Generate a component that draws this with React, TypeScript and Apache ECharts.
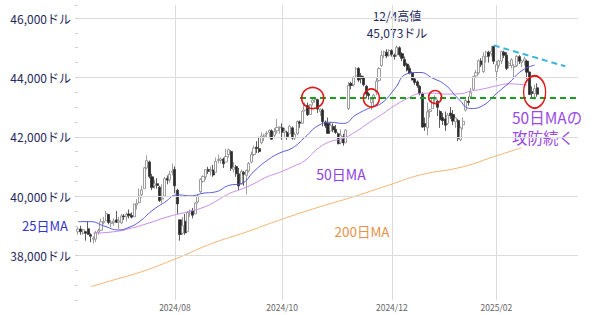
import React, { useEffect, useRef } from 'react';
import * as echarts from 'echarts';

// ---- calendar (trading days) ----
const startDate = '2024-06-06';
const totalDays = 197;
const holidays = ['2024-06-19', '2024-07-04', '2024-09-02', '2024-11-28', '2024-12-25', '2025-01-01', '2025-01-09', '2025-01-20', '2025-02-17'];
const monthLabels = ['2024/08', '2024/10', '2024/12', '2025/02'];
const gridValues = [38000, 40000, 42000, 44000, 46000];

// ---- daily OHLC (NY Dow) ----
const opens = [
  38800, 38890, 38750, 38800, 38900, 38700, 38550, 38550, 38780, 38850, 39100, 39180, 39380, 39080, 39100, 39200,
  39120, 39100, 39330, 39300, 39400, 39350, 39300, 39700, 39780, 40050, 40250, 40950, 41150, 40650, 40350, 40420, 40300, 39900, 40000, 40600, 40550, 40800,
  40900, 40200, 39200, 38750, 39150, 38800, 39420, 39500, 39400, 39800, 40150, 40500, 40650, 40900, 40850, 40880, 40800, 41200, 41200, 41250, 41150, 41400,
  41500, 40900, 41000, 40750, 40400, 40800, 40700, 40850, 41150, 41400, 41650, 41600, 41800, 42000, 42100, 42150, 42200, 42050, 42200, 42300,
  42300, 42150, 42150, 42100, 42300, 41950, 42100, 42500, 42450, 42900, 43050, 42750, 43150, 43250, 43250, 42850, 42900, 42500, 42450, 42200, 42350, 42250, 42100,
  41800, 42000, 41800, 42950, 43800, 43750, 44050, 44300, 44050, 44000, 43700, 43450, 43150, 43300, 43500, 43900, 44400, 44750, 44850, 44750,
  44900, 44750, 44750, 45000, 44800, 44600, 44450, 44300, 44150, 43950, 43850, 43700, 43450, 42450, 42300, 42850, 42950, 43250, 43200, 42850, 42650,
  42600, 42450, 42800, 42750, 42500, 42550, 41900, 42400, 42900, 43200, 43350, 43600, 44050, 44150, 44550, 44200, 44700, 44850, 44800, 45050,
  44200, 44400, 44550, 44850, 44750, 44400, 44400, 44350, 44400, 44700, 44500, 44550, 44550, 44180, 43520, 43450, 43650,
];
const closes = [
  38886, 38799, 38868, 38747, 38712, 38647, 38589, 38778, 38834, 39134, 39150, 39411, 39112, 39127, 39164, 39118,
  39170, 39331, 39308, 39375, 39344, 39291, 39721, 39753, 40001, 40212, 40954, 41198, 40665, 40288, 40415, 40358, 39854, 39935, 40589, 40539, 40743, 40843,
  40348, 39737, 38703, 38998, 38763, 39446, 39497, 39357, 39766, 40009, 40563, 40660, 40897, 40835, 40890, 40713, 41175, 41240, 41251, 41092, 41335, 41563,
  40937, 40975, 40756, 40345, 40830, 40737, 40861, 41097, 41394, 41622, 41606, 41503, 42025, 42063, 42125, 42208, 41915, 42175, 42313, 42330,
  42156, 42197, 42012, 42353, 41955, 42080, 42512, 42455, 42864, 43065, 42740, 43077, 43239, 43276, 42932, 42925, 42515, 42374, 42114, 42387, 42233, 42142, 41763,
  42052, 41794, 42222, 43729, 43729, 43989, 44293, 43911, 43958, 43751, 43445, 43390, 43269, 43408, 43870, 44297, 44737, 44860, 44722, 44911,
  44782, 44706, 45014, 44766, 44643, 44402, 44248, 44149, 43915, 43828, 43717, 43450, 42327, 42342, 42840, 42907, 43297, 43326, 42992, 42574, 42544,
  42392, 42732, 42706, 42528, 42635, 41938, 42297, 42518, 43222, 43153, 43488, 44025, 44157, 44565, 44424, 44714, 44850, 44714, 44882, 44545,
  44422, 44556, 44873, 44747, 44303, 44470, 44594, 44368, 44711, 44546, 44556, 44628, 44177, 43428, 43461, 43621, 43433,
];
const lows = [
  38700, 38700, 38700, 38500, 38700, 38450, 38400, 38450, 38700, 38830, 39050, 39150, 39050, 38950, 39000, 39100,
  38900, 39050, 39200, 39150, 39250, 39250, 39300, 39550, 39750, 39950, 40250, 40900, 40600, 40200, 40250, 40250, 39800, 39750, 39990, 40400, 40450, 40700,
  40100, 39400, 38499, 38700, 38700, 38800, 39300, 39250, 39400, 39750, 40100, 40450, 40550, 40750, 40700, 40650, 40800, 41100, 41100, 40950, 41150, 41300,
  40850, 40800, 40650, 40200, 40400, 40350, 40050, 40800, 41100, 41350, 41450, 41450, 41750, 41850, 42000, 41950, 41900, 41950, 42100, 42100,
  41900, 42000, 41900, 42100, 41900, 41900, 42050, 42300, 42450, 42850, 42700, 42750, 43050, 43150, 42800, 42700, 42350, 42300, 42100, 42200, 42150, 42100, 41750,
  41750, 41700, 41800, 42900, 43600, 43700, 44000, 43850, 43800, 43700, 43300, 43250, 42900, 43000, 43400, 43850, 44350, 44650, 44650, 44700,
  44700, 44600, 44700, 44700, 44550, 44350, 44200, 44100, 43900, 43750, 43650, 43400, 42300, 42200, 42050, 42650, 42950, 43100, 42700, 42300, 42400,
  42200, 42400, 42600, 42400, 42300, 41850, 41850, 42250, 42850, 43050, 43300, 43550, 44000, 44100, 44350, 44150, 44500, 44500, 44700, 44450,
  43900, 44300, 44450, 44650, 44250, 44300, 44300, 44000, 44350, 44450, 44350, 44400, 43950, 43400, 43300, 43250, 43350,
];
const highs = [
  38950, 39000, 38900, 38830, 39150, 38750, 38650, 38830, 38900, 39250, 39300, 39500, 39400, 39200, 39250, 39500,
  39300, 39400, 39400, 39450, 39550, 39450, 39750, 39900, 40250, 40350, 40980, 41375, 41200, 40750, 40550, 40600, 40350, 40400, 40650, 40700, 40850, 41100,
  41000, 40250, 39200, 39300, 39400, 39500, 39550, 39600, 39800, 40050, 40600, 40700, 40900, 40990, 41000, 41050, 41300, 41400, 41300, 41300, 41600, 41600,
  41550, 41150, 41050, 40950, 40900, 40850, 40900, 41150, 41500, 41700, 41850, 42000, 42150, 42100, 42200, 42250, 42250, 42300, 42600, 42350,
  42450, 42300, 42200, 42400, 42350, 42150, 42550, 42550, 42900, 43150, 43150, 43100, 43325, 43350, 43280, 42950, 42950, 42550, 42650, 42500, 42450, 42400, 42150,
  42250, 42100, 42250, 43850, 43850, 44050, 44350, 44350, 44150, 44050, 43750, 43500, 43300, 43450, 44000, 44350, 44900, 44900, 44950, 44950,
  44950, 44800, 45073, 45050, 44850, 44700, 44500, 44400, 44200, 44000, 43900, 43750, 43500, 42650, 43150, 42950, 43300, 43400, 43250, 42900, 42800,
  42850, 42800, 43000, 42900, 42650, 42600, 42350, 42650, 43300, 43350, 43650, 44050, 44250, 44600, 44650, 44850, 44900, 44900, 45050, 45050,
  44550, 44600, 44900, 44900, 44850, 44550, 44650, 44450, 44750, 44750, 44600, 44700, 44600, 44200, 43700, 43750, 43800,
];

// ---- moving averages: [trading-day index, value] ----
const ma25: [number, number][] = [
  [0, 39140], [5, 39140], [10, 39000], [16, 38860], [20, 38950], [24, 39135], [29, 39507], [34, 39794], [39, 40043],
  [44, 40008], [49, 40097], [54, 40145], [59, 40358], [64, 40424], [69, 40836], [74, 41195], [79, 41452], [84, 41620],
  [89, 41985], [94, 42367], [99, 42487], [104, 42449], [109, 42740], [114, 42959], [119, 43132], [124, 43598], [129, 44122],
  [134, 44166], [139, 43976], [144, 43746], [149, 43289], [154, 42953], [159, 43066], [164, 43454], [169, 43819], [174, 44228], [179, 44414],
];
const ma50: [number, number][] = [
  [6, 38750], [14, 38800], [20, 38900], [28, 39100], [35, 39300], [42, 39450], [49, 39616], [54, 39826], [59, 40076],
  [64, 40234], [69, 40422], [74, 40646], [79, 40799], [84, 40989], [89, 41204], [94, 41602], [99, 41841], [104, 41950],
  [109, 42180], [114, 42472], [119, 42749], [124, 43043], [129, 43285], [134, 43453], [139, 43468], [144, 43439], [149, 43444],
  [154, 43538], [159, 43616], [164, 43715], [169, 43783], [174, 43759], [176, 43740],
];
const ma200: [number, number][] = [
  [5, 36950], [14, 37175], [25, 37455], [39, 37915], [53, 38420], [66, 38790], [79, 39195], [95, 39645], [108, 39980],
  [122, 40375], [134, 40710], [151, 40990], [163, 41330], [174, 41630],
];

// ---- annotations (data coordinates) ----
const supportLevel = 43300;
const supportFrom = 87;
const trendStart: [number, number] = [163, 45080];
const trendEnd: [number, number] = [191, 44375];
const circleIdx = [92, 115, 140, 179];
const circleVal = [43306, 43306, 43340, 43508];
const circleW = [22, 16, 13, 22];
const circleH = [21, 18, 13, 32];

const FONT = "'Noto Sans CJK JP', 'Noto Sans', sans-serif";

function buildDates(): string[] {
  const out: string[] = [];
  const d = new Date(startDate + 'T00:00:00Z');
  while (out.length < totalDays) {
    const iso = d.toISOString().slice(0, 10);
    const wd = d.getUTCDay();
    if (wd !== 0 && wd !== 6 && !holidays.includes(iso)) out.push(iso.replace(/-/g, '/'));
    d.setUTCDate(d.getUTCDate() + 1);
  }
  return out;
}

function txt(text: string, x: number, y: number, size: number, color: string, align = 'center', lineHeight?: number) {
  return {
    type: 'text',
    x,
    y,
    silent: true,
    style: {
      text,
      fill: color,
      fontSize: size,
      fontFamily: FONT,
      lineHeight: lineHeight ?? Math.round(size * 1.25),
      align,
      verticalAlign: 'middle',
      textAlign: align,
      textVerticalAlign: 'middle',
    },
  };
}

export default function App() {
  const ref = useRef<HTMLDivElement>(null);

  useEffect(() => {
    document.body.style.margin = '0';
    if (!ref.current) return;
    const chart = echarts.init(ref.current, undefined, { renderer: 'svg' });
    const dates = buildDates();
    const labelDates = new Set(monthLabels.map((m) => dates.find((d) => d.startsWith(m))));
    const showLabel = (_i: number, v: string) => labelDates.has(v);
    const candleData = opens.map((o, i) => [o, closes[i], lows[i], highs[i]]);

    const option: any = {
      animation: false,
      grid: { left: 78, right: 22, top: 5, bottom: 15 },
      xAxis: {
        type: 'category',
        data: dates,
        boundaryGap: false,
        axisLine: { show: false },
        axisTick: { show: false, interval: showLabel },
        axisLabel: {
          interval: showLabel,
          formatter: (v: string) => v.slice(0, 7),
          fontSize: 8.5,
          color: '#666666',
          margin: 3,
          fontFamily: FONT,
        },
        splitLine: { show: true, interval: showLabel, lineStyle: { color: '#dcdcdc', width: 1 } },
      },
      yAxis: {
        type: 'value',
        min: 36500,
        max: 46440,
        interval: 500,
        axisLine: { show: false },
        axisTick: { show: true, length: 3, lineStyle: { color: '#cfcfcf' } },
        axisLabel: {
          formatter: (v: number) => (v % 2000 === 0 ? v.toLocaleString('en-US') + 'ドル' : ''),
          fontSize: 12,
          color: '#1f2a5c',
          margin: 7,
          fontFamily: FONT,
        },
        splitLine: { show: false },
      },
      series: [
        {
          type: 'line',
          data: [],
          z: 0,
          silent: true,
          markLine: {
            silent: true,
            symbol: ['none', 'none'],
            label: { show: false },
            emphasis: { disabled: true },
            lineStyle: { color: '#dcdcdc', width: 1, type: 'solid' },
            data: gridValues.map((v) => ({ yAxis: v })),
          },
        },
        {
          type: 'candlestick',
          data: candleData,
          barWidth: 2.6,
          z: 2,
          itemStyle: {
            color: '#ffffff',
            color0: '#2a2a2a',
            borderColor: '#858585',
            borderColor0: '#333333',
            borderWidth: 0.8,
          },
        },
        {
          type: 'line',
          data: ma200,
          smooth: true,
          symbol: 'none',
          z: 3,
          lineStyle: { color: '#f6b474', width: 1 },
        },
        {
          type: 'line',
          data: ma50,
          smooth: true,
          symbol: 'none',
          z: 3,
          lineStyle: { color: '#c98ae8', width: 1 },
        },
        {
          type: 'line',
          data: ma25,
          smooth: true,
          symbol: 'none',
          z: 3,
          lineStyle: { color: '#5858dc', width: 1 },
        },
        {
          type: 'line',
          data: [],
          z: 5,
          silent: true,
          markLine: {
            silent: true,
            symbol: ['none', 'none'],
            label: { show: false },
            emphasis: { disabled: true },
            data: [
              [
                { coord: [supportFrom, supportLevel], lineStyle: { color: '#1e9a1e', width: 2, type: [6, 4] } },
                { coord: [totalDays - 1, supportLevel] },
              ],
              [
                { coord: trendStart, lineStyle: { color: '#3cb4e0', width: 2, type: [6, 4] } },
                { coord: trendEnd },
              ],
            ],
          },
          markPoint: {
            silent: true,
            symbol: 'circle',
            label: { show: false },
            itemStyle: { color: 'rgba(0,0,0,0)', borderColor: '#e01818', borderWidth: 1.6 },
            data: circleIdx.map((idx, i) => ({
              coord: [idx, circleVal[i]],
              symbolSize: [circleW[i], circleH[i]],
            })),
          },
        },
      ],
      graphic: [
        txt('12/4高値', 397, 15, 12, '#1f2a5c', 'center', 15),
        txt('45,073ドル', 397, 32, 12, '#1f2a5c', 'center', 15),
        txt('25日MA', 45, 225, 13, '#3535c8'),
        txt('50日MA', 341, 174, 14, '#9040e0'),
        txt('200日MA', 362, 231, 13.5, '#e8914a'),
        txt('50日MAの', 512, 117, 15.5, '#9a4be6', 'left', 18),
        txt('攻防続く', 512, 137, 15.5, '#9a4be6', 'left', 18),
      ],
    };
    chart.setOption(option);
    return () => chart.dispose();
  }, []);

  return <div ref={ref} style={{ width: 600, height: 315 }} />;
}
